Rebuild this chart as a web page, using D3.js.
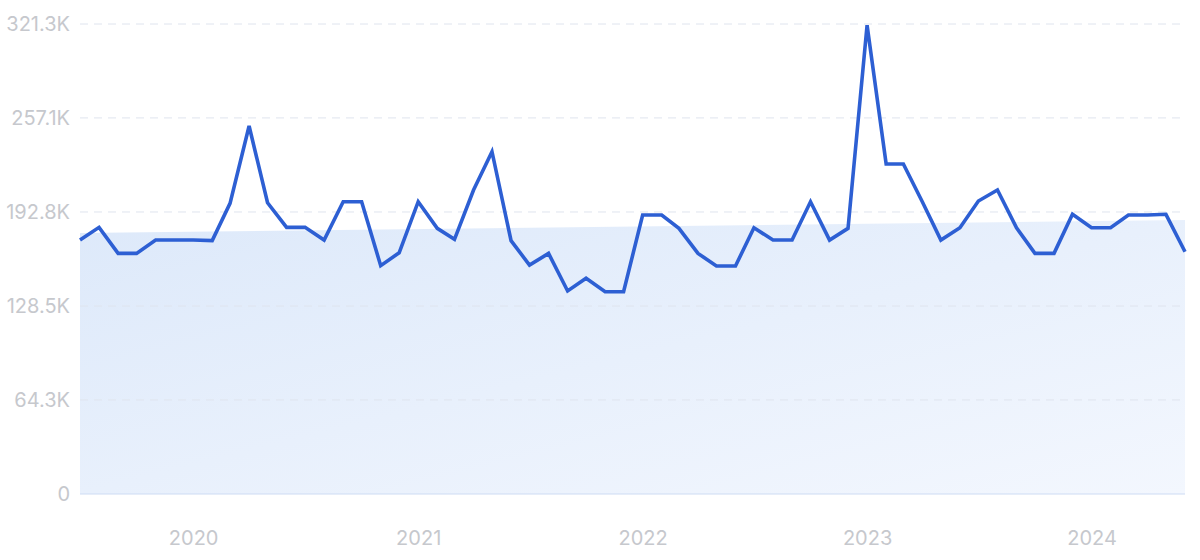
<!DOCTYPE html>
<html>
<head>
<meta charset="utf-8">
<script src="https://cdn.jsdelivr.net/npm/d3@7"></script>
<style>
  html, body { margin: 0; padding: 0; background: #ffffff; }
  svg { display: block; }
</style>
</head>
<body>
<svg id="chart" width="1200" height="560"></svg>
<script>
// ---- data ----
const startMonth = "2019-07";
const values = [
  173.6, 182.3, 164.5, 164.5, 173.6, 173.6, 173.6, 173.2, 198.7, 251.6,
  199.1, 182.3, 182.3, 173.6, 199.8, 199.8, 156.1, 164.9, 199.8, 181.6,
  174.1, 207.8, 234.0, 173.2, 156.5, 164.5, 138.8, 147.5, 138.3, 138.3,
  190.7, 190.7, 181.6, 164.5, 155.9, 155.9, 182.0, 173.6, 173.6, 199.8,
  173.6, 181.6, 320.5, 225.6, 225.6, 199.6, 173.6, 182.0, 200.3, 207.8,
  182.0, 164.5, 164.5, 191.2, 182.0, 182.0, 190.7, 190.7, 191.2, 165.6
]; // thousands
const trendValues = [178.4, 187.3]; // shaded band top at start and end (thousands)
const yTicks = [0, 64.3, 128.5, 192.8, 257.1, 321.3];
const yTickLabels = ["0", "64.3K", "128.5K", "192.8K", "257.1K", "321.3K"];
const xTickYears = [2020, 2021, 2022, 2023, 2024];

// ---- layout ----
const svg = d3.select("#chart");
const mLeft = 80, mRight = 1185, mTop = 24, mBottom = 494;

const parse = d3.timeParse("%Y-%m");
const t0 = parse(startMonth);
const dates = values.map((v, i) => d3.timeMonth.offset(t0, i));
const data = values.map((v, i) => ({ date: dates[i], value: v }));

const x = d3.scaleTime().domain([dates[0], dates[dates.length - 1]]).range([mLeft, mRight]);
const y = d3.scaleLinear().domain([0, 321.3]).range([mBottom, mTop]);

// gradient
const defs = svg.append("defs");
const grad = defs.append("linearGradient").attr("id", "bandGrad")
  .attr("x1", "0%").attr("y1", "0%").attr("x2", "100%").attr("y2", "100%");
grad.append("stop").attr("offset", "0%").attr("stop-color", "#dde9fa");
grad.append("stop").attr("offset", "100%").attr("stop-color", "#f3f7fe");

// shaded trend band
const band = [
  { date: dates[0], value: trendValues[0] },
  { date: dates[dates.length - 1], value: trendValues[1] }
];
svg.append("path")
  .datum(band)
  .attr("fill", "url(#bandGrad)")
  .attr("d", d3.area().x(d => x(d.date)).y0(y(0)).y1(d => y(d.value)));

// y axis labels
const yAxis = d3.axisLeft(y).tickValues(yTicks).tickFormat((d, i) => yTickLabels[i]).tickSize(0).tickPadding(10);
const gY = svg.append("g").attr("transform", `translate(${mLeft},0)`).call(yAxis);
gY.select(".domain").remove();
gY.selectAll("text")
  .attr("fill", "#c6c8cd")
  .style("font-family", "Inter, 'Noto Sans', sans-serif")
  .style("font-size", "20px");

// gridlines
svg.append("g").selectAll("line")
  .data(yTicks.filter(d => d > 0))
  .join("line")
  .attr("x1", mLeft).attr("x2", mRight)
  .attr("y1", d => y(d)).attr("y2", d => y(d))
  .attr("stroke", "#dfe4ee")
  .attr("stroke-width", 1)
  .attr("stroke-dasharray", "8,6");

// baseline
svg.append("line")
  .attr("x1", mLeft).attr("x2", mRight)
  .attr("y1", y(0)).attr("y2", y(0))
  .attr("stroke", "#cddcf4").attr("stroke-width", 1.2);

// x axis
const xAxis = d3.axisBottom(x)
  .tickValues(xTickYears.map(yr => new Date(yr, 0, 1)))
  .tickFormat(d3.timeFormat("%Y"))
  .tickSize(0).tickPadding(37);
const gX = svg.append("g").attr("transform", `translate(0,${mBottom})`).call(xAxis);
gX.select(".domain").remove();
gX.selectAll("text")
  .attr("fill", "#c6c8cd")
  .style("font-family", "Inter, 'Noto Sans', sans-serif")
  .style("font-size", "20px");

// line
svg.append("path")
  .datum(data)
  .attr("fill", "none")
  .attr("stroke", "#2d5fd3")
  .attr("stroke-width", 3.6)
  .attr("stroke-linejoin", "miter")
  .attr("d", d3.line().x(d => x(d.date)).y(d => y(d.value)));
</script>
</body>
</html>
